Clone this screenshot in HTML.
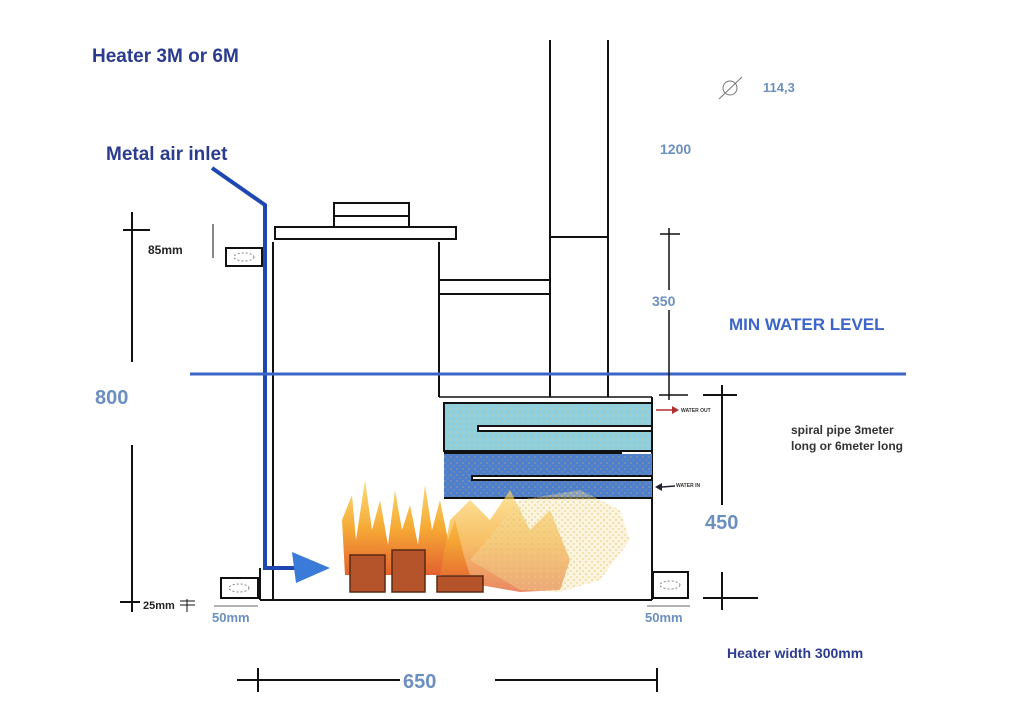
<!DOCTYPE html>
<html><head><meta charset="utf-8"><style>
html,body{margin:0;padding:0;background:#fff;}
svg{display:block;}
text{font-family:"Liberation Sans",sans-serif;font-weight:bold;}
</style></head><body>
<svg width="1024" height="724" viewBox="0 0 1024 724" xmlns="http://www.w3.org/2000/svg">
<defs>
<linearGradient id="fl" x1="0" y1="1" x2="0" y2="0">
<stop offset="0" stop-color="#e0501a"/><stop offset="0.5" stop-color="#f5a21f"/><stop offset="1" stop-color="#fbd86a"/>
</linearGradient>
<pattern id="spk" width="6" height="6" patternUnits="userSpaceOnUse">
<rect width="6" height="6" fill="none"/><circle cx="1" cy="1" r="0.8" fill="#e8c060"/><circle cx="4" cy="4" r="0.7" fill="#d0a848"/>
</pattern>
</defs>
<g fill="none" stroke="#111" stroke-width="2">
<line x1="550" y1="40" x2="550" y2="397"/>
<line x1="608" y1="40" x2="608" y2="397"/>
<line x1="550" y1="237" x2="608" y2="237"/>
<line x1="439" y1="280" x2="550" y2="280"/>
<line x1="439" y1="294" x2="550" y2="294"/>
<line x1="273" y1="242" x2="273" y2="600"/>
<line x1="439" y1="242" x2="439" y2="397"/>
<rect x="275" y="227" width="181" height="12"/>
<rect x="334" y="203" width="75" height="13"/>
<rect x="334" y="216" width="75" height="11"/>
<line x1="439" y1="397" x2="652" y2="397" stroke-width="1.5"/>
<line x1="652" y1="397" x2="652" y2="600"/>
<line x1="260" y1="600" x2="652" y2="600"/>
<line x1="260" y1="568" x2="260" y2="600"/>
<rect x="221" y="578" width="37" height="20"/>
<rect x="653" y="572" width="35" height="26"/>
<rect x="226" y="248" width="36" height="18"/>
</g>
<g fill="none" stroke="#888" stroke-width="1" stroke-dasharray="2,2">
<ellipse cx="239" cy="588" rx="10" ry="4"/><ellipse cx="670" cy="585" rx="10" ry="4"/><ellipse cx="244" cy="257" rx="10" ry="4"/>
</g>
<rect x="444" y="403" width="208" height="48" fill="#8fd0e0"/>
<rect x="444" y="454" width="208" height="44" fill="#4e7fcc"/>
<rect x="444" y="403" width="208" height="95" fill="url(#spk)" opacity="0.5"/>
<g stroke="#111" stroke-width="2" fill="none">
<rect x="444" y="403" width="208" height="48"/>
<rect x="478" y="426" width="174" height="5" fill="#fff"/>
<line x1="444" y1="453" x2="622" y2="453"/>
<rect x="472" y="476" width="180" height="4" fill="#fff"/>
<line x1="444" y1="498" x2="652" y2="498"/>
</g>
<g fill="url(#fl)" opacity="0.9">
<path d="M345 575 L342 520 L352 495 L356 540 L365 480 L372 530 L380 500 L388 545 L395 490 L402 530 L410 505 L418 545 L425 485 L432 530 L440 500 L448 540 L455 520 L465 560 L470 575Z"/>
<path d="M440 575 L450 520 L470 500 L490 520 L510 490 L530 530 L550 510 L570 560 L560 590 L520 592 L480 585Z" opacity="0.75"/>
</g>
<path d="M470 560 L520 500 L580 490 L620 510 L630 540 L600 580 L560 592 L520 590Z" fill="url(#spk)"/>
<path d="M470 560 L520 500 L580 490 L620 510 L630 540 L600 580 L560 592 L520 590Z" fill="#f3e0a0" opacity="0.35"/>
<g fill="#b5532a" stroke="#5a2a12" stroke-width="1.5">
<rect x="350" y="555" width="35" height="37"/>
<rect x="392" y="550" width="33" height="42"/>
<rect x="437" y="576" width="46" height="16"/>
</g>
<g stroke="#1f47b0" fill="none" stroke-width="4">
<polyline points="212,168 265,205 265,568 300,568"/>
</g>
<polygon points="292,552 330,568 296,583" fill="#3a7ad8"/>
<line x1="190" y1="374" x2="906" y2="374" stroke="#3b66c8" stroke-width="3"/>
<g stroke="#111" stroke-width="2" fill="none">
<line x1="132" y1="212" x2="132" y2="362"/>
<line x1="123" y1="230" x2="150" y2="230"/>
<line x1="132" y1="445" x2="132" y2="612"/>
<line x1="120" y1="602" x2="140" y2="602"/>
<line x1="213" y1="224" x2="213" y2="258" stroke-width="1"/>
<line x1="187" y1="599" x2="187" y2="612" stroke-width="1"/>
<line x1="180" y1="601" x2="195" y2="601" stroke-width="1"/>
<line x1="180" y1="605" x2="195" y2="605" stroke-width="1"/>
<line x1="237" y1="680" x2="400" y2="680"/>
<line x1="258" y1="668" x2="258" y2="692"/>
<line x1="495" y1="680" x2="658" y2="680"/>
<line x1="657" y1="668" x2="657" y2="692"/>
<line x1="722" y1="385" x2="722" y2="505"/>
<line x1="703" y1="395" x2="737" y2="395"/>
<line x1="722" y1="572" x2="722" y2="610"/>
<line x1="703" y1="598" x2="758" y2="598"/>
<line x1="669" y1="228" x2="669" y2="290" stroke-width="1.5"/>
<line x1="669" y1="310" x2="669" y2="400" stroke-width="1.5"/>
<line x1="660" y1="234" x2="680" y2="234" stroke-width="1.5"/>
<line x1="659" y1="395" x2="688" y2="395" stroke-width="1.5"/>
<line x1="214" y1="606" x2="258" y2="606" stroke="#666" stroke-width="1"/>
<line x1="647" y1="606" x2="690" y2="606" stroke="#666" stroke-width="1"/>
</g>
<line x1="656" y1="410" x2="672" y2="410" stroke="#b03030" stroke-width="1.5"/>
<polygon points="672,406 679,410 672,414" fill="#b03030"/>
<line x1="662" y1="487" x2="675" y2="486" stroke="#223" stroke-width="1.5"/>
<polygon points="662,483 655,487 662,491" fill="#223"/>
<text x="681" y="412" font-size="5" fill="#333" font-weight="normal">WATER OUT</text>
<text x="676" y="487" font-size="5" fill="#333" font-weight="normal">WATER IN</text>
<circle cx="730" cy="88" r="7" fill="none" stroke="#777" stroke-width="1"/>
<line x1="719" y1="99" x2="742" y2="77" stroke="#777" stroke-width="1"/>
<text x="92" y="62" font-size="19" fill="#2b3b8e">Heater 3M or 6M</text>
<text x="106" y="160" font-size="19" fill="#2b3b8e">Metal air inlet</text>
<text x="148" y="254" font-size="12" fill="#222">85mm</text>
<text x="95" y="404" font-size="20" fill="#6b8fc0">800</text>
<text x="143" y="609" font-size="11" fill="#222">25mm</text>
<text x="212" y="622" font-size="13" fill="#6b8fc0">50mm</text>
<text x="645" y="622" font-size="13" fill="#6b8fc0">50mm</text>
<text x="403" y="688" font-size="20" fill="#6b8fc0">650</text>
<text x="727" y="658" font-size="14" fill="#2b3b8e">Heater width 300mm</text>
<text x="705" y="529" font-size="20" fill="#6b8fc0">450</text>
<text x="791" y="434" font-size="12" fill="#333">spiral pipe 3meter</text>
<text x="791" y="450" font-size="12" fill="#333">long or 6meter long</text>
<text x="729" y="330" font-size="17" fill="#3b66c8">MIN WATER LEVEL</text>
<text x="652" y="306" font-size="14" fill="#6b8fc0">350</text>
<text x="660" y="154" font-size="14" fill="#6b8fc0">1200</text>
<text x="763" y="92" font-size="13" fill="#6b8fc0">114,3</text>
</svg>
</body></html>
